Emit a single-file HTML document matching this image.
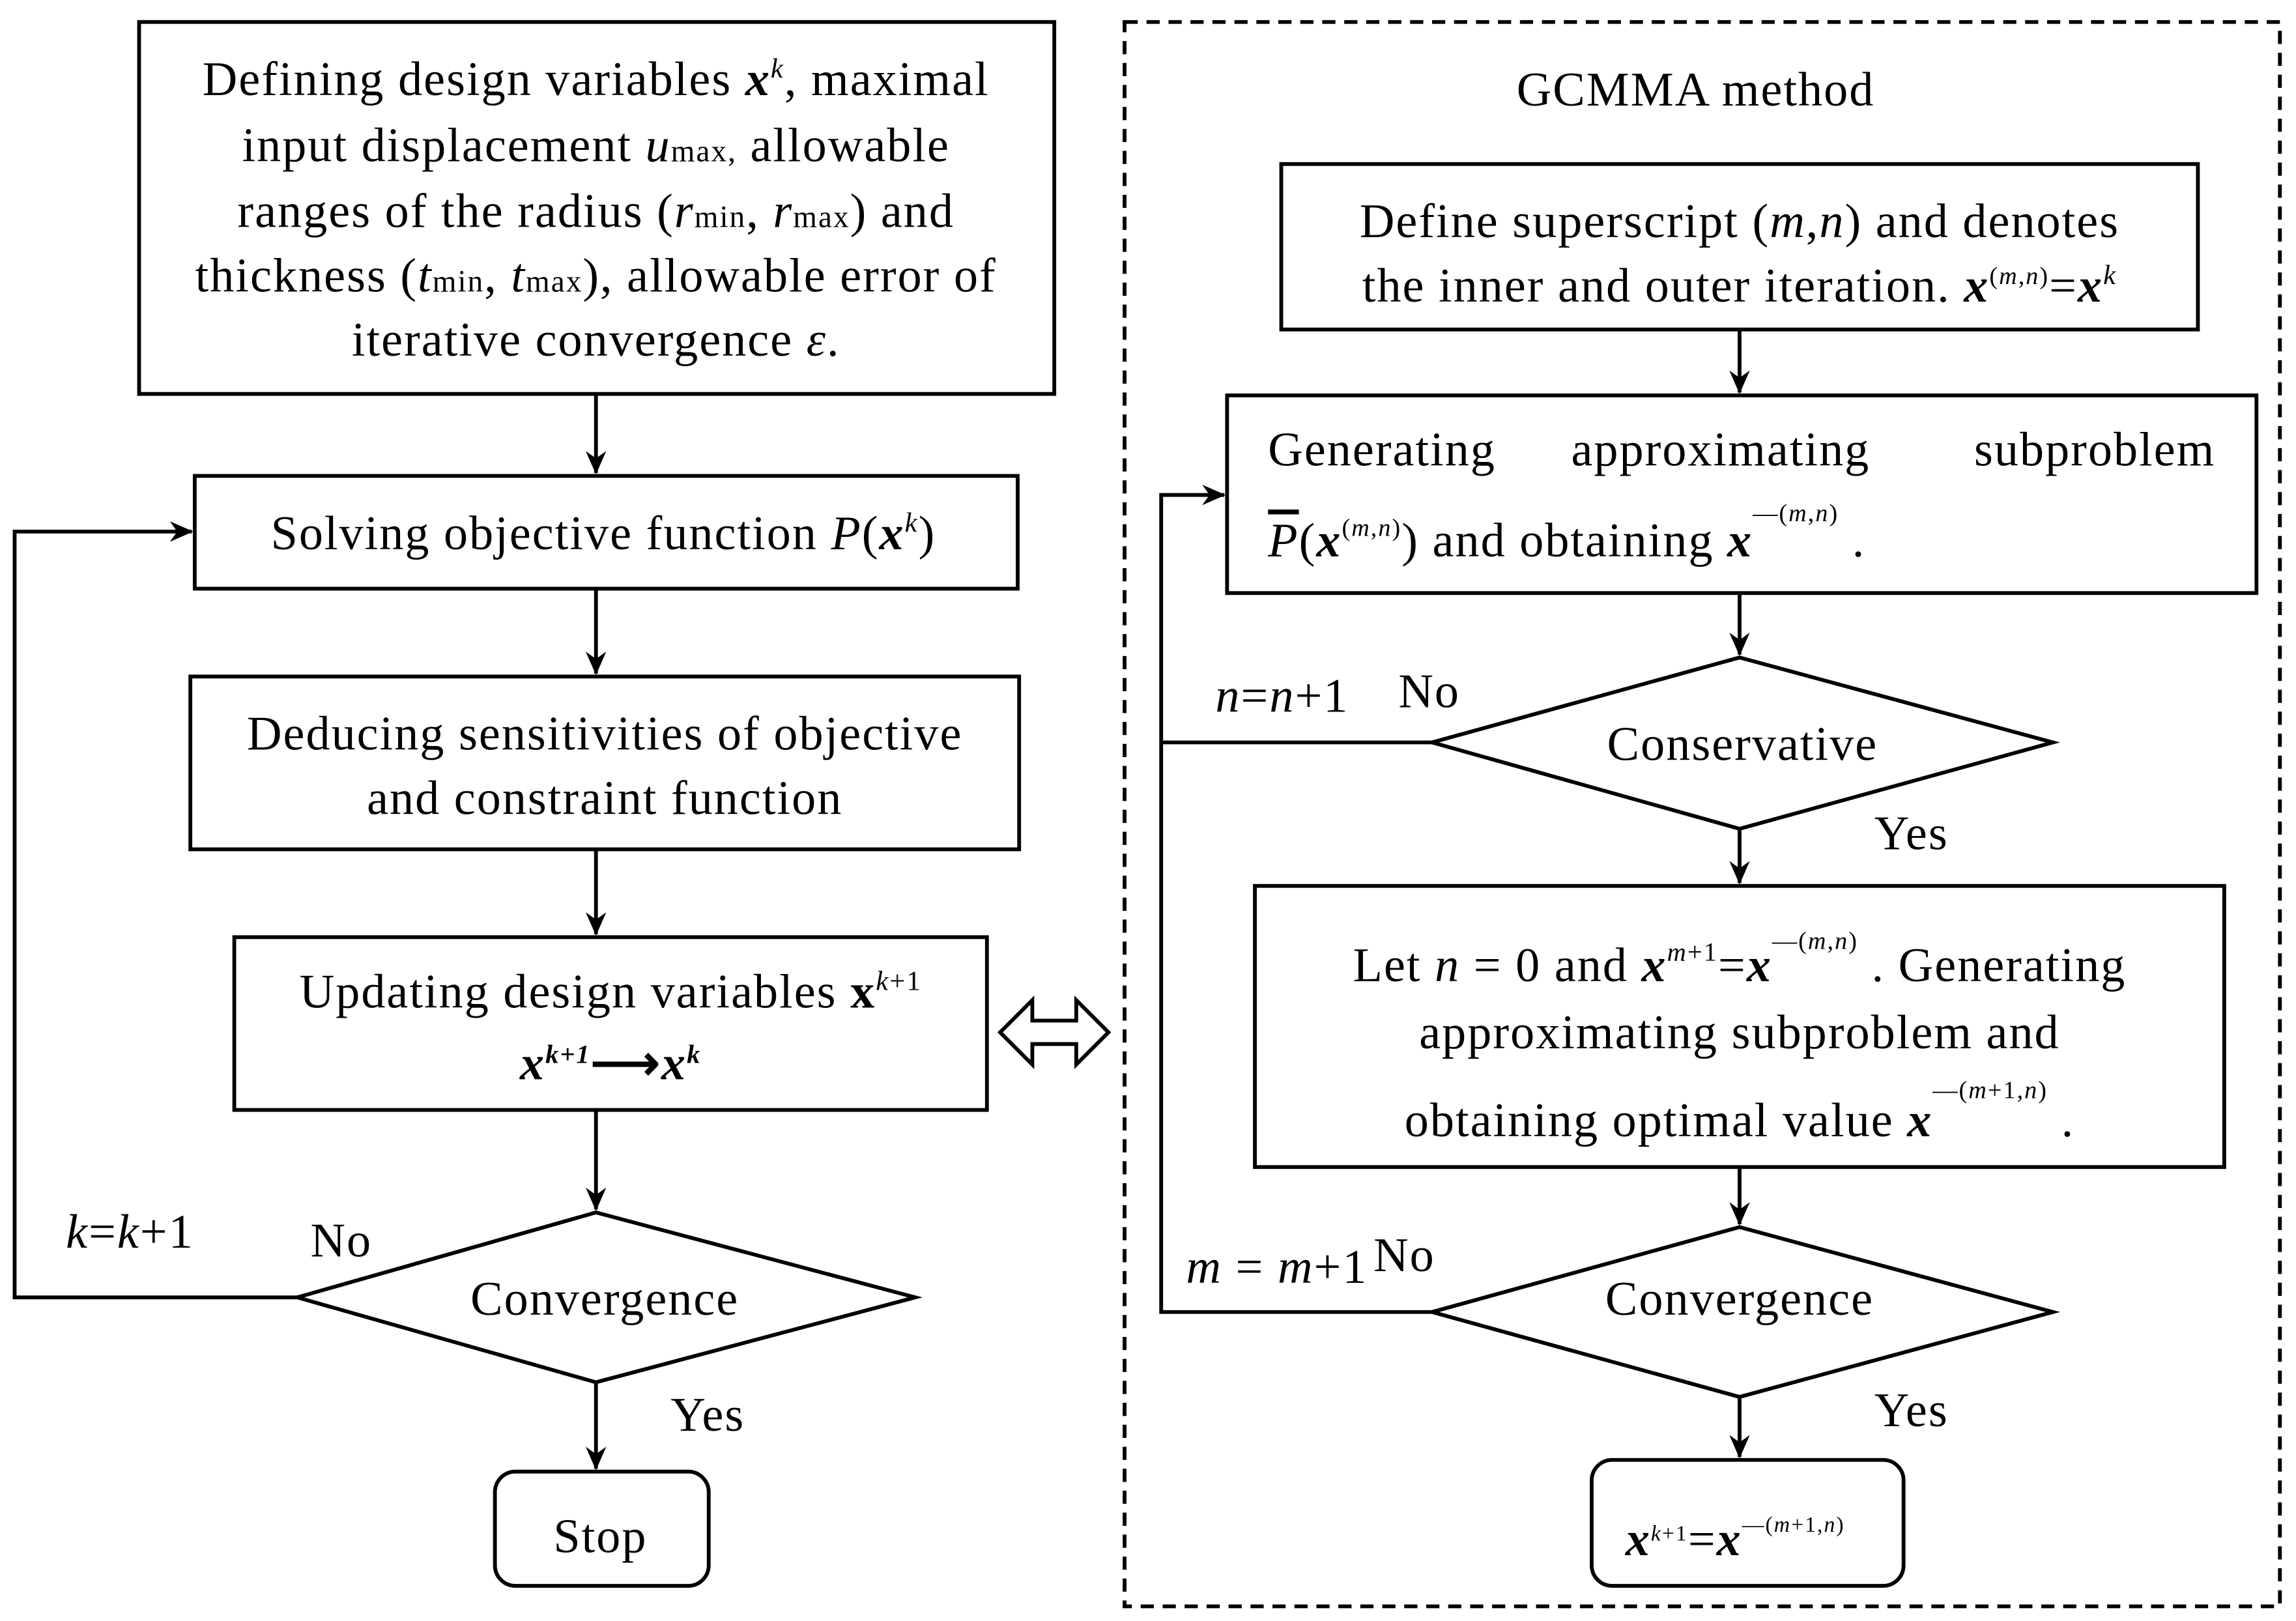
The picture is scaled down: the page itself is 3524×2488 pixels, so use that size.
<!DOCTYPE html>
<html><head><meta charset="utf-8"><style>
html,body{margin:0;padding:0;background:#fff;}
svg{display:block;}
text{font-family:"Liberation Serif",serif;font-size:33px;letter-spacing:0.9px;fill:#000;}
.b{font-weight:bold;font-style:italic;}
.i{font-style:italic;}
</style></head><body>
<svg width="3524" height="2488" viewBox="0 0 1568 1107" xmlns="http://www.w3.org/2000/svg">
<defs>
<marker id="a" markerWidth="16" markerHeight="16" refX="15" refY="8" orient="auto" markerUnits="userSpaceOnUse" viewBox="0 0 16 16">
<path d="M0,1 L16,8 L0,15 L5,8 Z" fill="#000"/>
</marker>
</defs>
<g fill="none" stroke="#000" stroke-width="2.6">
<rect x="95" y="15" width="625" height="254"/>
<rect x="133" y="325" width="562" height="77"/>
<rect x="130" y="462" width="566" height="118"/>
<rect x="160" y="640" width="514" height="118"/>
<polygon points="203,886 407,828 625,886 407,944"/>
<rect x="338" y="1005" width="146" height="78" rx="14"/>
<line x1="407" y1="269" x2="407" y2="323" marker-end="url(#a)"/>
<line x1="407" y1="402" x2="407" y2="460" marker-end="url(#a)"/>
<line x1="407" y1="580" x2="407" y2="638" marker-end="url(#a)"/>
<line x1="407" y1="758" x2="407" y2="826" marker-end="url(#a)"/>
<line x1="407" y1="944" x2="407" y2="1003" marker-end="url(#a)"/>
<polyline points="203,886 10,886 10,363 131,363" marker-end="url(#a)"/>
<polygon points="683,705 705,683 705,697 735,697 735,683 757,705 735,727 735,713 705,713 705,727"/>
<rect x="768" y="15" width="789" height="1082" stroke-dasharray="9,6"/>
<rect x="875" y="112" width="626" height="113"/>
<rect x="838" y="270" width="703" height="135"/>
<polygon points="978,507 1188,449 1402,507 1188,566"/>
<rect x="857" y="605" width="662" height="192"/>
<polygon points="978,896 1188,838 1402,896 1188,954"/>
<rect x="1087" y="997" width="213" height="86" rx="14"/>
<line x1="1188" y1="225" x2="1188" y2="268" marker-end="url(#a)"/>
<line x1="1188" y1="405" x2="1188" y2="447" marker-end="url(#a)"/>
<line x1="1188" y1="566" x2="1188" y2="603" marker-end="url(#a)"/>
<line x1="1188" y1="797" x2="1188" y2="836" marker-end="url(#a)"/>
<line x1="1188" y1="954" x2="1188" y2="995" marker-end="url(#a)"/>
<polyline points="978,507 793,507"/>
<polyline points="978,896 793,896 793,338 836,338" marker-end="url(#a)"/>
</g>
<g text-anchor="middle">
<text x="407" y="65">Defining design variables <tspan class="b">x</tspan><tspan class="i" font-size="19" dy="-12">k</tspan><tspan dy="12">, maximal</tspan></text>
<text x="407" y="110">input displacement <tspan class="i">u</tspan><tspan font-size="21">max,</tspan> allowable</text>
<text x="407" y="155">ranges of the radius (<tspan class="i">r</tspan><tspan font-size="21">min</tspan>, <tspan class="i">r</tspan><tspan font-size="21">max</tspan>) and</text>
<text x="407" y="199">thickness (<tspan class="i">t</tspan><tspan font-size="21">min</tspan>, <tspan class="i">t</tspan><tspan font-size="21">max</tspan>), allowable error of</text>
<text x="407" y="243">iterative convergence <tspan class="i">ε</tspan>.</text>
<text x="412" y="375">Solving objective function <tspan class="i">P</tspan>(<tspan class="b">x</tspan><tspan class="i" font-size="19" dy="-12">k</tspan><tspan dy="12">)</tspan></text>
<text x="413" y="512">Deducing sensitivities of objective</text>
<text x="413" y="556">and constraint function</text>
<text x="417" y="688">Updating design variables <tspan font-weight="bold">x</tspan><tspan class="i" font-size="19" dy="-12">k</tspan><tspan font-size="19">+1</tspan></text>
<text x="417" y="737" class="b" font-size="27">x<tspan font-size="18" dy="-11">k+1</tspan><tspan dy="11" font-style="normal">⟶</tspan>x<tspan font-size="18" dy="-11">k</tspan></text>
<text x="413" y="898">Convergence</text>
<text x="410" y="1060">Stop</text>
<text x="1158" y="72">GCMMA method</text>
<text x="1188" y="162">Define superscript (<tspan class="i">m</tspan>,<tspan class="i">n</tspan>) and denotes</text>
<text x="1188" y="206">the inner and outer iteration. <tspan class="b">x</tspan><tspan font-size="17" dy="-12">(<tspan class="i">m</tspan>,<tspan class="i">n</tspan>)</tspan><tspan dy="12">=</tspan><tspan class="b">x</tspan><tspan class="i" font-size="19" dy="-12">k</tspan></text>
<text x="1190" y="519">Conservative</text>
<text x="1188" y="670">Let <tspan class="i">n</tspan> = 0 and <tspan class="b">x</tspan><tspan class="i" font-size="18" dy="-14">m</tspan><tspan font-size="18">+1</tspan><tspan dy="14">=</tspan><tspan class="b">x</tspan><tspan font-size="17" dy="-22">—(<tspan class="i">m</tspan>,<tspan class="i">n</tspan>)</tspan><tspan dy="22">  .  Generating</tspan></text>
<text x="1188" y="716">approximating subproblem and</text>
<text x="1188" y="776">obtaining optimal value <tspan class="b">x</tspan><tspan font-size="17" dy="-26">—(<tspan class="i">m</tspan>+1,<tspan class="i">n</tspan>)</tspan><tspan dy="26">   .</tspan></text>
<text x="1188" y="898">Convergence</text>
<text x="1185" y="1062" font-size="22"><tspan class="b">x</tspan><tspan class="i" font-size="15" dy="-10">k</tspan><tspan font-size="15">+1</tspan><tspan dy="10">=</tspan><tspan class="b">x</tspan><tspan font-size="15" dy="-16">—(<tspan class="i">m</tspan>+1,<tspan class="i">n</tspan>)</tspan></text>
</g>
<text x="866" y="318">Generating</text>
<text x="1073" y="318">approximating</text>
<text x="1513" y="318" text-anchor="end">subproblem</text>
<text x="866" y="380"><tspan class="i" text-decoration="overline">P</tspan>(<tspan class="b">x</tspan><tspan font-size="17" dy="-14">(<tspan class="i">m</tspan>,<tspan class="i">n</tspan>)</tspan><tspan dy="14">) and obtaining  </tspan><tspan class="b">x</tspan><tspan font-size="17" dy="-24">—(<tspan class="i">m</tspan>,<tspan class="i">n</tspan>)</tspan><tspan dy="24">  .</tspan></text>
<text x="45" y="852"><tspan class="i">k</tspan>=<tspan class="i">k</tspan>+1</text>
<text x="212" y="858">No</text>
<text x="458" y="977">Yes</text>
<text x="830" y="486"><tspan class="i">n</tspan>=<tspan class="i">n</tspan>+1</text>
<text x="955" y="483">No</text>
<text x="1280" y="580">Yes</text>
<text x="810" y="876"><tspan class="i">m</tspan> = <tspan class="i">m</tspan>+1</text>
<text x="938" y="868">No</text>
<text x="1280" y="974">Yes</text>
</svg>
</body></html>
